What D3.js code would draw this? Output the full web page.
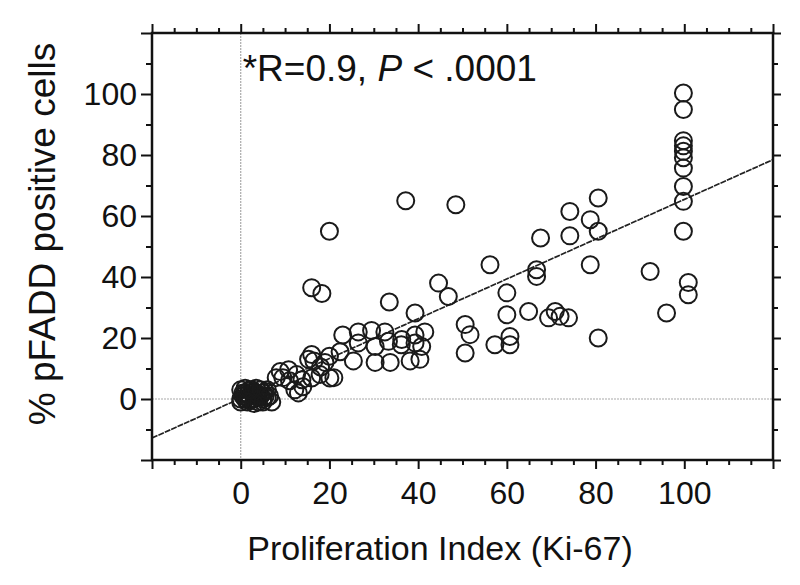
<!DOCTYPE html>
<html>
<head>
<meta charset="utf-8">
<script src="https://cdn.jsdelivr.net/npm/d3@7"></script>
<style>
  html, body { margin: 0; padding: 0; background: #fff; }
  svg { display: block; font-family: "Liberation Sans", Arial, sans-serif; }
</style>
</head>
<body>
<svg id="chart" width="800" height="585"></svg>
<script>
// ---- data ----
const kiValues = [
  0, 0.5, 1, 1, 1.5, 2, 2, 2.5, 3, 3, 3.5, 4, 4.5, 5, 5, 5.5, 6, 7, 0.5, 1.5, 3, 4, 2,
  0, 1, 2.5, 3.5, 4.5, 5.5, 6.5, 0, 1.5, 3, 4, 5, 6, 2,
  8, 8.9, 9.5, 10.8, 11, 12.2, 12.6, 13, 13.8, 14, 16, 16.5, 15.3, 17.9, 18, 19, 20.1, 20, 21, 22.4, 16,
  23, 26.5, 29.5, 32.5, 36.3, 39.3,
  26.5, 30.3, 33.3, 36.2, 39.3, 40.8,
  25.4, 30.3, 33.7, 38.2, 40.4, 41.5,
  16, 18.3, 20, 33.5, 37.2, 39.3, 44.6, 46.8, 48.5,
  50.6, 51.7, 50.6, 56.2, 57.3, 60, 60, 60.7, 60.7, 64.9, 66.7, 66.7, 67.6,
  69.4, 70.9, 72, 73.9, 74.2, 74.2, 78.8, 78.8, 80.6, 80.6, 80.6, 92.3, 96,
  99.8, 99.8, 99.8, 99.8, 99.8, 99.8, 99.8, 99.8, 99.8, 99.8, 100.9, 100.9
];
const pfaddValues = [
  0, 1, 0, 2, 0.5, 1, 0, 2, 0, 1, 2, 0.5, 1, 0, 2, 1, 0.5, -1, 2, 1.5, 2.5, 1.5, -0.5,
  3, 3.5, 3, 3.5, 3, 2.5, 1, -1, -1, -1.5, -1, -1, 3, 3,
  7, 9, 7, 9.6, 6, 3, 8, 2, 6.3, 4, 6.9, 12.5, 13, 8, 10.5, 12, 6.9, 14, 7, 15.5, 14.6,
  21, 22, 22.5, 22, 19.5, 21,
  18.4, 17.2, 18.9, 17.8, 18.4, 17.2,
  12.5, 12, 12, 12.5, 13, 22,
  36.5, 34.6, 55, 31.8, 65, 28.2, 38, 33.6, 63.7,
  24.4, 21.1, 15.1, 44, 17.8, 34.8, 27.6, 20.5, 17.8, 28.7, 42.4, 40.2, 52.8,
  26.6, 28.7, 27.1, 26.6, 61.5, 53.5, 58.8, 44, 65.9, 55, 20, 41.8, 28.2,
  100.3, 94.9, 84.7, 83, 81.2, 79.1, 75.7, 69.7, 64.8, 55, 38.2, 34.2
];
const xTickLabels = [0, 20, 40, 60, 80, 100];
const yTickLabels = [0, 20, 40, 60, 80, 100];
const fitIntercept = 0.24;
const fitSlope = 0.652;
const xTitle = "Proliferation Index (Ki-67)";
const yTitle = "% pFADD positive cells";

// ---- layout ----
const svg = d3.select("#chart");
const L = 152, R = 773, T = 33, B = 460;
const x = d3.scaleLinear().domain([-20, 120]).range([L, R]);
const y = d3.scaleLinear().domain([-20, 120]).range([B, T]);
const ink = "#111";
const fontSize = 32;

// reference lines at 0
svg.append("line").attr("x1", x(0)).attr("x2", x(0)).attr("y1", T).attr("y2", B)
  .attr("stroke", "#aaa").attr("stroke-width", 1.2).attr("stroke-dasharray", "2,1");
svg.append("line").attr("x1", L).attr("x2", R).attr("y1", y(0)).attr("y2", y(0))
  .attr("stroke", "#aaa").attr("stroke-width", 1.2).attr("stroke-dasharray", "2,1");

// regression line (clipped to frame)
svg.append("clipPath").attr("id", "plotclip").append("rect")
  .attr("x", L).attr("y", T).attr("width", R - L).attr("height", B - T);
const fitX = x.domain();
svg.append("line")
  .attr("clip-path", "url(#plotclip)")
  .attr("x1", x(fitX[0])).attr("y1", y(fitIntercept + fitSlope * fitX[0]))
  .attr("x2", x(fitX[1])).attr("y2", y(fitIntercept + fitSlope * fitX[1]))
  .attr("stroke", "#222").attr("stroke-width", 1.7).attr("stroke-dasharray", "6,1");

// points
const pts = kiValues.map((v, i) => ({ k: v, p: pfaddValues[i] }));
svg.append("g").selectAll("circle").data(pts).join("circle")
  .attr("cx", d => x(d.k)).attr("cy", d => y(d.p)).attr("r", 8.5)
  .attr("fill", "none").attr("stroke", "#1a1a1a").attr("stroke-width", 2);

// axes (all four sides)
function styleAxis(g) {
  g.select(".domain").remove();
  g.selectAll(".tick line").attr("stroke", ink).attr("stroke-width", 2);
  g.selectAll(".tick text").attr("fill", ink).attr("font-size", fontSize)
    .attr("font-family", "Liberation Sans, Arial, sans-serif");
}
const xMajor = d3.range(-20, 121, 20);
const xMinor = d3.range(-20, 121, 5).filter(v => v % 20 !== 0);
const yMajor = d3.range(-20, 121, 20);
const yMinor = d3.range(-10, 121, 20);
const labelFmt = v => xTickLabels.includes(v) ? String(v) : "";
const ylabelFmt = v => yTickLabels.includes(v) ? String(v) : "";

// bottom
svg.append("g").attr("transform", `translate(0,${B})`)
  .call(d3.axisBottom(x).tickValues(xMinor).tickSize(5).tickFormat("")).call(styleAxis);
svg.append("g").attr("transform", `translate(0,${B})`)
  .call(d3.axisBottom(x).tickValues(xMajor).tickSize(9).tickPadding(12).tickFormat(labelFmt)).call(styleAxis);
// top
svg.append("g").attr("transform", `translate(0,${T})`)
  .call(d3.axisTop(x).tickValues(xMinor).tickSize(5).tickFormat("")).call(styleAxis);
svg.append("g").attr("transform", `translate(0,${T})`)
  .call(d3.axisTop(x).tickValues(xMajor).tickSize(9).tickFormat("")).call(styleAxis);
// left
svg.append("g").attr("transform", `translate(${L},0)`)
  .call(d3.axisLeft(y).tickValues(yMinor).tickSize(6).tickFormat("")).call(styleAxis);
svg.append("g").attr("transform", `translate(${L},0)`)
  .call(d3.axisLeft(y).tickValues(yMajor).tickSize(11).tickPadding(4).tickFormat(ylabelFmt)).call(styleAxis);
// right
svg.append("g").attr("transform", `translate(${R},0)`)
  .call(d3.axisRight(y).tickValues(yMinor).tickSize(5).tickFormat("")).call(styleAxis);
svg.append("g").attr("transform", `translate(${R},0)`)
  .call(d3.axisRight(y).tickValues(yMajor).tickSize(8).tickFormat("")).call(styleAxis);

// frame
svg.append("rect").attr("x", L).attr("y", T).attr("width", R - L).attr("height", B - T)
  .attr("fill", "none").attr("stroke", ink).attr("stroke-width", 2.5);

// annotation
const ann = svg.append("text").attr("x", x(0) + 2).attr("y", 81)
  .attr("font-size", 37).attr("fill", ink);
ann.append("tspan").text("*R=0.9, ");
ann.append("tspan").attr("font-style", "italic").text("P");
ann.append("tspan").text(" < .0001");

// axis titles
svg.append("text").attr("x", 440).attr("y", 560).attr("text-anchor", "middle")
  .attr("font-size", 34).attr("fill", ink).text(xTitle);
svg.append("text").attr("transform", "translate(55,234) rotate(-90)")
  .attr("text-anchor", "middle").attr("font-size", 37).attr("fill", ink).text(yTitle);
</script>
</body>
</html>
